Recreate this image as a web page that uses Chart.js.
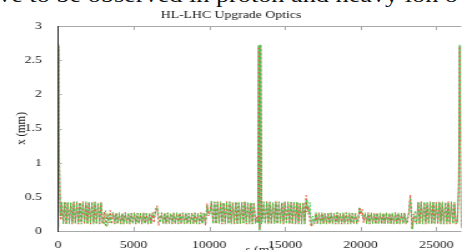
<!DOCTYPE html>
<html>
<head>
<meta charset="utf-8">
<script src="https://cdn.jsdelivr.net/npm/chart.js@4.4.1/dist/chart.umd.min.js"></script>
<style>
  html, body { margin:0; padding:0; background:#fff; overflow:hidden; width:462px; height:250px; }
  #para { position:absolute; left:-2px; top:-15px; font:21px 'Liberation Serif', 'Times New Roman', serif; line-height:21px; white-space:nowrap; color:#111; transform:scaleX(1.25); transform-origin:0 0; }
  #wrap { position:absolute; left:0; top:0; width:370px; height:250px; transform:scaleX(1.2486); transform-origin:0 0; }
</style>
</head>
<body>
<div id="para">ve to be observed in proton and heavy ion o</div>
<div id="wrap"><canvas id="c"></canvas></div>
<script>
// ---- data ----
const chartTitle = 'HL-LHC Upgrade Optics';
const xTitle = 's (m)';
const yTitle = 'x (mm)';
const xTicks = [0, 5000, 10000, 15000, 20000, 25000];
const yTicks = [0, 0.5, 1, 1.5, 2, 2.5, 3];
const ringLength = 26659;

// longitudinal positions s (m)
const sPos = [
  0,40,80,150,200,
  250,350,450,550,650,750,850,950,1050,1150,1250,1350,1450,1550,1650,1750,1850,1950,2050,2150,2250,2350,2450,2550,2650,2750,2850,2950,
  3050,3150,3250,3350,3450,3550,
  3650,3750,3850,3950,4050,4150,4250,4350,4450,4550,4650,4750,4850,4950,5050,5150,5250,5350,5450,5550,5650,5750,5850,5950,6050,6150,6250,
  6350,6450,6550,6650,6750,
  6850,6950,7050,7150,7250,7350,7450,7550,7650,7750,7850,7950,8050,8150,8250,8350,8450,8550,8650,8750,8850,8950,9050,9150,9250,9350,9450,9550,9650,
  9750,9850,9950,10050,10150,
  10250,10350,10450,10550,10650,10750,10850,10950,11050,11150,11250,11350,11450,11550,11650,11750,11850,11950,12050,12150,12250,12350,12450,12550,12650,12750,12850,12950,13050,
  13130,13200,13270,13300,13329,13358,13390,13460,13530,
  13600,13700,13800,13900,14000,14100,14200,14300,14400,14500,14600,14700,14800,14900,15000,15100,15200,15300,15400,15500,15600,15700,15800,15900,16000,16100,16200,16300,
  16400,16450,16550,16650,16750,16850,
  16950,17050,17150,17250,17350,17450,17550,17650,17750,17850,17950,18050,18150,18250,18350,18450,18550,18650,18750,18850,18950,19050,19150,19250,19350,19450,19550,19650,19750,
  19850,19920,20000,20100,20200,
  20300,20400,20500,20600,20700,20800,20900,21000,21100,21200,21300,21400,21500,21600,21700,21800,21900,22000,22100,22200,22300,22400,22500,22600,22700,22800,22900,23000,
  23100,23200,23285,23350,23417,23500,23600,
  23700,23800,23900,24000,24100,24200,24300,24400,24500,24600,24700,24800,24900,25000,25100,25200,25300,25400,25500,25600,25700,25800,25900,26000,26100,26200,26300,
  26400,26480,26550,26600,26659
];

// beam size x (mm), red dashed curve
const xRed = [
  0.05,2.70,1.10,0.30,0.16,
  0.42,0.11,0.43,0.10,0.42,0.12,0.41,0.10,0.43,0.11, 0.42,0.10,0.42,0.12,0.43,0.10,0.41,0.11,0.42,0.10, 0.43,0.12,0.42,0.10,0.41,0.11,0.42,0.10,
  0.28,0.08,0.24,0.12,0.30,0.10,
  0.26,0.11,0.27,0.10,0.26,0.11,0.26,0.10,0.27,0.11, 0.26,0.10,0.26,0.11,0.27,0.10,0.26,0.11,0.26,0.10, 0.27,0.11,0.26,0.10,0.26,0.11,0.27,
  0.12,0.30,0.37,0.08,0.20,
  0.26,0.10,0.27,0.11,0.26,0.10,0.26,0.11,0.27,0.10, 0.26,0.11,0.26,0.10,0.27,0.11,0.26,0.10,0.26,0.11, 0.27,0.10,0.26,0.11,0.26,0.10,0.27,0.11,0.26,
  0.08,0.40,0.22,0.30,0.42,
  0.11,0.42,0.10,0.43,0.12,0.42,0.10,0.41,0.11,0.43, 0.10,0.42,0.12,0.42,0.10,0.43,0.11,0.41,0.10,0.42, 0.12,0.43,0.10,0.42,0.11,0.41,0.10,0.42,0.12,
  0.20,0.15,2.70,0.90,0.03,0.80,2.71,0.16,0.22,
  0.42,0.10,0.43,0.11,0.42,0.10,0.41,0.12,0.43,0.10, 0.42,0.11,0.42,0.10,0.43,0.12,0.41,0.10,0.42,0.11, 0.43,0.10,0.42,0.12,0.41,0.10,0.42,0.11,
  0.52,0.28,0.36,0.14,0.06,0.12,
  0.11,0.26,0.10,0.27,0.11,0.26,0.10,0.26,0.11,0.27, 0.10,0.26,0.11,0.26,0.10,0.27,0.11,0.26,0.10,0.26, 0.11,0.27,0.10,0.26,0.11,0.26,0.10,0.27,0.11,
  0.14,0.35,0.24,0.32,0.12,
  0.26,0.11,0.27,0.10,0.26,0.11,0.26,0.10,0.27,0.11, 0.26,0.10,0.26,0.11,0.27,0.10,0.26,0.11,0.26,0.10, 0.27,0.11,0.26,0.10,0.26,0.11,0.27,0.10,
  0.12,0.30,0.53,0.20,0.03,0.25,0.14,
  0.11,0.42,0.10,0.43,0.12,0.42,0.10,0.41,0.11,0.43, 0.10,0.42,0.12,0.42,0.10,0.43,0.11,0.41,0.10,0.42, 0.12,0.43,0.10,0.42,0.11,0.41,0.10,
  0.18,0.60,2.70,1.20,0.05
];

// beam size x (mm), green dashed curve
const xGreen = [
  0.04,2.73,1.30,0.22,0.30,
  0.43,0.10,0.42,0.11,0.43,0.10,0.42,0.12,0.42,0.10, 0.43,0.11,0.41,0.10,0.42,0.12,0.43,0.10,0.42,0.11, 0.42,0.10,0.43,0.11,0.42,0.10,0.41,0.12,
  0.10,0.30,0.06,0.26,0.12,0.27,
  0.27,0.10,0.26,0.11,0.27,0.10,0.26,0.11,0.26,0.10, 0.27,0.11,0.26,0.10,0.27,0.11,0.26,0.10,0.27,0.11, 0.26,0.10,0.27,0.11,0.26,0.10,0.26,
  0.22,0.33,0.35,0.24,0.12,
  0.27,0.11,0.26,0.10,0.27,0.11,0.26,0.10,0.26,0.11, 0.27,0.10,0.26,0.11,0.26,0.10,0.27,0.11,0.26,0.10, 0.26,0.11,0.27,0.10,0.26,0.11,0.26,0.10,0.27,
  0.12,0.36,0.28,0.25,0.45,
  0.10,0.43,0.11,0.42,0.10,0.43,0.12,0.42,0.10,0.42, 0.11,0.43,0.10,0.41,0.12,0.42,0.10,0.43,0.11,0.42, 0.10,0.42,0.12,0.43,0.10,0.42,0.11,0.41,0.10,
  0.15,0.12,2.73,1.00,0.01,0.95,2.73,0.10,0.18,
  0.43,0.11,0.42,0.10,0.43,0.12,0.42,0.10,0.42,0.11, 0.43,0.10,0.41,0.12,0.42,0.10,0.43,0.11,0.42,0.10, 0.42,0.12,0.43,0.10,0.42,0.11,0.41,0.10,
  0.38,0.46,0.24,0.42,0.09,0.22,
  0.10,0.27,0.11,0.26,0.10,0.27,0.11,0.26,0.10,0.26, 0.11,0.27,0.10,0.26,0.11,0.27,0.10,0.26,0.11,0.27, 0.10,0.26,0.11,0.27,0.10,0.26,0.11,0.26,0.10,
  0.22,0.34,0.30,0.22,0.20,
  0.27,0.10,0.26,0.11,0.27,0.10,0.26,0.11,0.26,0.10, 0.27,0.11,0.26,0.10,0.27,0.11,0.26,0.10,0.27,0.11, 0.26,0.10,0.27,0.11,0.26,0.10,0.26,0.11,
  0.22,0.25,0.47,0.35,0.02,0.15,0.30,
  0.10,0.43,0.11,0.42,0.10,0.43,0.12,0.42,0.10,0.42, 0.11,0.43,0.10,0.41,0.12,0.42,0.10,0.43,0.11,0.42, 0.10,0.42,0.12,0.43,0.10,0.42,0.11,
  0.12,0.70,2.73,1.40,0.04
];

// beam size x (mm), grey solid curve
const xGrey = [
  0.05,2.71,1.20,0.26,0.22,
  0.40,0.13,0.41,0.14,0.40,0.13,0.39,0.14,0.41,0.13, 0.40,0.14,0.40,0.13,0.41,0.14,0.39,0.13,0.40,0.14, 0.41,0.13,0.40,0.14,0.39,0.13,0.40,0.14,
  0.20,0.18,0.22,0.15,0.21,0.17,
  0.24,0.13,0.24,0.13,0.23,0.13,0.24,0.13,0.24,0.13, 0.23,0.13,0.24,0.13,0.24,0.13,0.23,0.13,0.24,0.13, 0.24,0.13,0.23,0.13,0.24,0.13,0.24,
  0.18,0.28,0.33,0.20,0.18,
  0.24,0.13,0.23,0.13,0.24,0.13,0.24,0.13,0.23,0.13, 0.24,0.13,0.24,0.13,0.23,0.13,0.24,0.13,0.24,0.13, 0.23,0.13,0.24,0.13,0.24,0.13,0.23,0.13,0.24,
  0.10,0.38,0.25,0.28,0.43,
  0.14,0.40,0.13,0.41,0.14,0.40,0.13,0.39,0.14,0.41, 0.13,0.40,0.14,0.40,0.13,0.41,0.14,0.39,0.13,0.40, 0.14,0.41,0.13,0.40,0.14,0.39,0.13,0.40,0.14,
  0.18,0.14,2.71,0.95,0.02,0.90,2.72,0.13,0.20,
  0.40,0.14,0.41,0.13,0.40,0.14,0.39,0.13,0.41,0.14, 0.40,0.13,0.40,0.14,0.41,0.13,0.39,0.14,0.40,0.13, 0.41,0.14,0.40,0.13,0.39,0.14,0.40,0.13,
  0.45,0.35,0.30,0.30,0.08,0.17,
  0.13,0.24,0.13,0.23,0.13,0.24,0.13,0.24,0.13,0.23, 0.13,0.24,0.13,0.24,0.13,0.23,0.13,0.24,0.13,0.24, 0.13,0.23,0.13,0.24,0.13,0.24,0.13,0.23,0.13,
  0.18,0.33,0.27,0.28,0.16,
  0.24,0.13,0.24,0.13,0.23,0.13,0.24,0.13,0.24,0.13, 0.23,0.13,0.24,0.13,0.24,0.13,0.23,0.13,0.24,0.13, 0.24,0.13,0.23,0.13,0.24,0.13,0.24,0.13,
  0.18,0.28,0.50,0.28,0.03,0.20,0.22,
  0.14,0.40,0.13,0.41,0.14,0.40,0.13,0.39,0.14,0.41, 0.13,0.40,0.14,0.40,0.13,0.41,0.14,0.39,0.13,0.40, 0.14,0.41,0.13,0.40,0.14,0.39,0.13,
  0.15,0.65,2.71,1.30,0.05
];

// ---- chart ----
const pts = arr => {
  if (arr.length !== sPos.length) console.warn('length mismatch', sPos.length, arr.length);
  const n = Math.min(sPos.length, arr.length);
  const out = [];
  for (let i = 0; i < n; i++) out.push({ x: sPos[i], y: arr[i] });
  return out;
};

const serif = "'Liberation Serif', 'Times New Roman', serif";
const txt = '#1a1a1a';

const framePlugin = {
  id: 'frame',
  afterDatasetsDraw(chart) {
    const { ctx, chartArea: a, scales: { x, y } } = chart;
    ctx.save();
    ctx.lineWidth = 1;
    ctx.strokeStyle = '#a8a8a8';
    ctx.beginPath();
    ctx.moveTo(a.left, Math.round(a.top) + 0.5); ctx.lineTo(a.right, Math.round(a.top) + 0.5);
    ctx.moveTo(a.left, Math.round(a.bottom) + 0.5); ctx.lineTo(a.right, Math.round(a.bottom) + 0.5);
    x.ticks.forEach(t => {
      const px = Math.round(x.getPixelForValue(t.value)) + 0.5;
      ctx.moveTo(px, a.top); ctx.lineTo(px, a.top + 4);
      ctx.moveTo(px, a.bottom); ctx.lineTo(px, a.bottom - 4);
    });
    y.ticks.forEach(t => {
      const py = Math.round(y.getPixelForValue(t.value)) + 0.5;
      ctx.moveTo(a.left, py); ctx.lineTo(a.left + 3, py);
    });
    ctx.stroke();
    ctx.strokeStyle = '#222';
    ctx.beginPath();
    ctx.moveTo(Math.round(a.left) + 0.5, a.top); ctx.lineTo(Math.round(a.left) + 0.5, a.bottom + 1);
    ctx.stroke();
    ctx.restore();
  }
};

new Chart(document.getElementById('c'), {
  type: 'line',
  data: {
    datasets: [
      { label: 'green', data: pts(xGreen), borderColor: '#46c846', borderWidth: 1, borderDash: [2, 2], borderDashOffset: 2, pointRadius: 0, tension: 0 },
      { label: 'red', data: pts(xRed), borderColor: '#e4502f', borderWidth: 1, borderDash: [2, 2], pointRadius: 0, tension: 0 },
      { label: 'grey', data: pts(xGrey), borderColor: '#b4b4b4', borderWidth: 1, pointRadius: 0, tension: 0 }
    ]
  },
  options: {
    responsive: true,
    maintainAspectRatio: false,
    animation: false,
    events: [],
    layout: { padding: 0 },
    plugins: {
      legend: { display: false },
      tooltip: { enabled: false },
      title: {
        display: true, text: chartTitle, color: txt,
        font: { family: serif, size: 11, weight: 'normal', lineHeight: 1.2 },
        padding: { top: 9, bottom: 3.8 }
      }
    },
    scales: {
      x: {
        type: 'linear', min: 0, max: ringLength,
        afterBuildTicks: sc => { sc.ticks = xTicks.map(v => ({ value: v })); },
        afterFit: sc => { sc.height = 19; },
        grid: { display: false }, border: { display: false },
        ticks: { autoSkip: false, maxRotation: 0, includeBounds: false, padding: 0, color: txt,
                 font: { family: serif, size: 11 }, callback: v => String(v) },
        title: { display: true, text: xTitle, color: txt, font: { family: serif, size: 11 }, padding: { top: 0, bottom: -7 } }
      },
      y: {
        type: 'linear', min: 0, max: 3,
        afterBuildTicks: sc => { sc.ticks = yTicks.map(v => ({ value: v })); },
        afterFit: sc => { sc.width = 46.4; },
        grid: { display: false }, border: { display: false },
        ticks: { padding: 5, color: txt, font: { family: serif, size: 11 }, callback: v => String(v) },
        title: { display: true, text: yTitle, color: txt, font: { family: serif, size: 11 }, padding: { top: 10.2, bottom: 0 } }
      }
    }
  },
  plugins: [framePlugin]
});
</script>
</body>
</html>
